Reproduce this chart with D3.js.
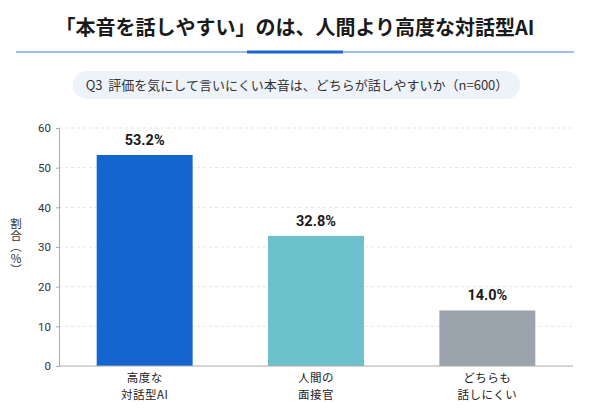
<!DOCTYPE html>
<html lang="ja">
<head>
<meta charset="UTF-8">
<title>本音を話しやすいのは</title>
<script src="https://d3js.org/d3.v7.min.js"></script>
<style>
  body { margin: 0; background: #fff; }
  svg { display: block; font-family: "Noto Sans CJK JP", "Noto Sans", sans-serif; }
</style>
</head>
<body>
<script>
const categories = [["高度な", "対話型AI"], ["人間の", "面接官"], ["どちらも", "話しにくい"]];
const values = [53.2, 32.8, 14.0];
const colors = ["#1565cf", "#6cc0cc", "#9ba3ad"];
const yTicks = [0, 10, 20, 30, 40, 50, 60];

const W = 590, H = 417;
const margin = { top: 128, right: 17, bottom: 51, left: 59 };

const svg = d3.select("body").append("svg")
  .attr("width", W)
  .attr("height", H);

// title + divider
svg.append("text")
  .attr("x", W / 2)
  .attr("y", 35)
  .attr("text-anchor", "middle")
  .attr("font-size", 20)
  .attr("font-weight", "bold")
  .attr("fill", "#1a1a1a")
  .text("「本音を話しやすい」のは、人間より高度な対話型AI");

svg.append("line")
  .attr("x1", 16).attr("x2", 574)
  .attr("y1", 52).attr("y2", 52)
  .attr("stroke", "#3d7fd6")
  .attr("stroke-width", 1);
svg.append("line")
  .attr("x1", 247).attr("x2", 343)
  .attr("y1", 52).attr("y2", 52)
  .attr("stroke", "#1a66cc")
  .attr("stroke-width", 3);

// question pill
svg.append("rect")
  .attr("x", 73).attr("y", 71)
  .attr("width", 447).attr("height", 28)
  .attr("rx", 14)
  .attr("fill", "#eef3fa");
svg.append("text")
  .attr("x", 297)
  .attr("y", 89.5)
  .attr("text-anchor", "middle")
  .attr("font-size", 13)
  .attr("fill", "#333")
  .style("white-space", "pre")
  .text("Q3  評価を気にして言いにくい本音は、どちらが話しやすいか（n=600）");

const x = d3.scaleBand()
  .domain(d3.range(values.length))
  .range([margin.left, W - margin.right])
  .paddingInner(0.44)
  .paddingOuter(0.22);

const y = d3.scaleLinear()
  .domain([0, 60])
  .range([H - margin.bottom, margin.top]);

// grid
svg.append("g")
  .selectAll("line")
  .data(yTicks.filter(d => d > 0))
  .join("line")
  .attr("x1", margin.left).attr("x2", W - margin.right)
  .attr("y1", d => y(d)).attr("y2", d => y(d))
  .attr("stroke", "#e3e3e3")
  .attr("stroke-dasharray", "3,3");

// y axis
const yAxis = svg.append("g")
  .attr("transform", `translate(${margin.left},0)`)
  .call(d3.axisLeft(y).tickValues(yTicks).tickSize(3).tickPadding(5));
yAxis.select(".domain").attr("stroke", "#aaa");
yAxis.selectAll(".tick line").attr("stroke", "#aaa");
yAxis.selectAll(".tick text")
  .attr("font-size", 11.5)
  .attr("font-family", "Roboto, 'Noto Sans', sans-serif")
  .attr("fill", "#333");

// vertical y label (tategaki)
svg.append("text")
  .attr("x", 16)
  .attr("y", 247)
  .attr("text-anchor", "middle")
  .attr("font-size", 11.5)
  .attr("fill", "#333")
  .style("writing-mode", "vertical-rl")
  .text("割合（％）");

// bars
svg.append("g")
  .selectAll("rect")
  .data(values)
  .join("rect")
  .attr("x", (d, i) => x(i))
  .attr("y", d => y(d))
  .attr("width", x.bandwidth())
  .attr("height", d => y(0) - y(d))
  .attr("fill", (d, i) => colors[i]);

// x axis baseline
svg.append("line")
  .attr("x1", margin.left).attr("x2", W - margin.right)
  .attr("y1", y(0)).attr("y2", y(0))
  .attr("stroke", "#aaa");

// value labels
svg.append("g")
  .selectAll("text")
  .data(values)
  .join("text")
  .attr("x", (d, i) => x(i) + x.bandwidth() / 2)
  .attr("y", d => y(d) - 10)
  .attr("text-anchor", "middle")
  .attr("font-size", 14.5)
  .attr("font-weight", "bold")
  .attr("font-family", "Roboto, 'Noto Sans', sans-serif")
  .attr("fill", "#1a1a1a")
  .text(d => d.toFixed(1) + "%");

// category labels, two lines each
const catLines = categories.flatMap((lines, i) => lines.map((t, j) => ({ i, j, t })));
svg.append("g")
  .selectAll("text")
  .data(catLines)
  .join("text")
  .attr("x", d => x(d.i) + x.bandwidth() / 2)
  .attr("y", d => 381.5 + d.j * 17)
  .attr("text-anchor", "middle")
  .attr("font-size", 11.5)
  .attr("letter-spacing", 0.5)
  .attr("fill", "#222")
  .text(d => d.t);
</script>
</body>
</html>
